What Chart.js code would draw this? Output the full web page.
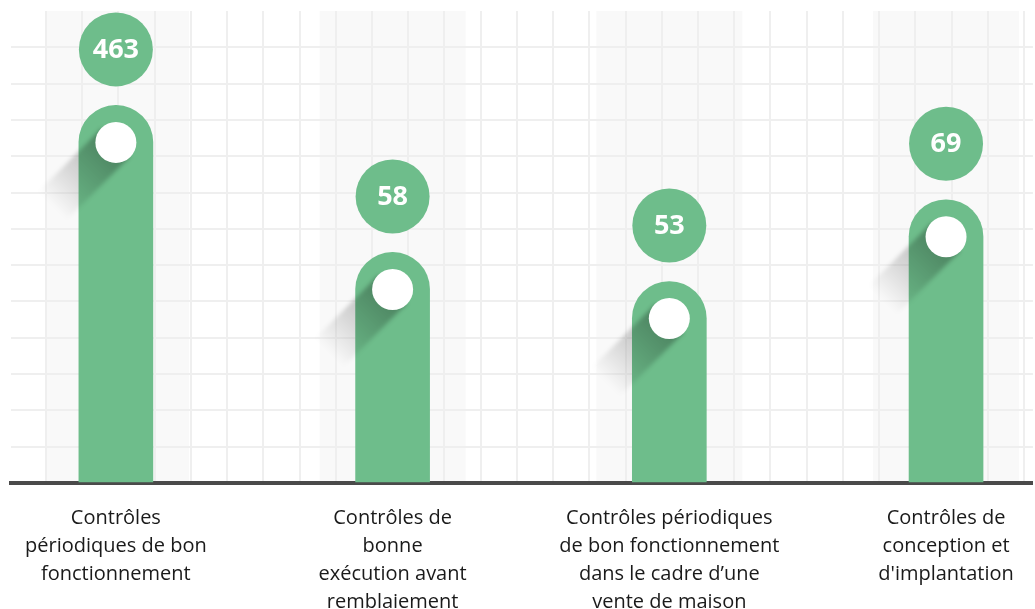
<!DOCTYPE html>
<html>
<head>
<meta charset="utf-8">
<script src="https://cdn.jsdelivr.net/npm/chart.js@4.4.0/dist/chart.umd.min.js"></script>
<style>
  html, body { margin: 0; padding: 0; background: #fff; }
  #wrap { width: 1035px; height: 609px; position: relative; }
</style>
</head>
<body>
<div id="wrap"><canvas id="chart"></canvas></div>
<script>
const categories = [
  ["Contrôles", "périodiques de bon", "fonctionnement"],
  ["Contrôles de", "bonne", "exécution avant", "remblaiement"],
  ["Contrôles périodiques", "de bon fonctionnement", "dans le cadre d’une", "vente de maison"],
  ["Contrôles de", "conception et", "d'implantation"]
];
const values = [463, 58, 53, 69];
// bar lengths as drawn in the picture, in grid cells (the infographic is not to scale)
const barHeights = [10.4, 6.35, 5.55, 7.8];

const GREEN = '#6ebd8b';
const FONT = "'Open Sans', 'DejaVu Sans', sans-serif";

// light column bands, long shadows, white dots and value badges
const decorations = {
  id: 'decorations',
  beforeDraw(chart) {
    const { ctx, chartArea: a } = chart;
    const bars = chart.getDatasetMeta(0).data;
    ctx.save();
    ctx.fillStyle = '#f9f9f9';
    bars.forEach(bar => {
      const left = Math.max(a.left + 35, bar.x - 73);
      const right = bar.x + 73;
      ctx.fillRect(left, a.top, right - left, a.bottom - a.top);
    });
    ctx.restore();
  },
  afterDatasetsDraw(chart) {
    const { ctx } = chart;
    const bars = chart.getDatasetMeta(0).data;
    bars.forEach((bar, i) => {
      const r = bar.width / 2;
      const cx = bar.x;
      const cy = bar.y + r;

      // long shadow going down-left from the dot
      ctx.save();
      ctx.translate(cx, cy);
      ctx.rotate(Math.PI * 3 / 4);
      const g = ctx.createLinearGradient(0, 0, 90, 0);
      g.addColorStop(0, 'rgba(0,0,0,0.32)');
      g.addColorStop(0.55, 'rgba(0,0,0,0.14)');
      g.addColorStop(1, 'rgba(0,0,0,0)');
      ctx.fillStyle = g;
      ctx.filter = 'blur(2px)';
      ctx.fillRect(0, -20, 90, 40);
      ctx.restore();

      // white dot
      ctx.save();
      ctx.fillStyle = '#ffffff';
      ctx.beginPath();
      ctx.arc(cx, cy, 20.5, 0, Math.PI * 2);
      ctx.fill();

      // value badge
      const by = bar.y - 56;
      ctx.fillStyle = GREEN;
      ctx.beginPath();
      ctx.arc(cx, by, 37, 0, Math.PI * 2);
      ctx.fill();
      ctx.fillStyle = '#ffffff';
      ctx.font = "bold 27px " + FONT;
      ctx.textAlign = 'center';
      ctx.textBaseline = 'middle';
      ctx.fillText(String(values[i]), cx, by + 1);
      ctx.restore();
    });
  }
};

new Chart(document.getElementById('chart'), {
  type: 'bar',
  data: {
    datasets: [{
      data: barHeights.map((h, i) => ({ x: i, y: h })),
      backgroundColor: GREEN,
      borderWidth: 0,
      barThickness: 74,
      borderRadius: 37,
      borderSkipped: 'start',
      xAxisID: 'x',
      yAxisID: 'y'
    }]
  },
  options: {
    responsive: true,
    maintainAspectRatio: false,
    animation: false,
    layout: { padding: { left: 11, top: 11, right: 0, bottom: 0 } },
    plugins: {
      legend: { display: false },
      tooltip: { enabled: false }
    },
    scales: {
      x: {
        type: 'linear',
        position: 'bottom',
        offset: false,
        min: -0.379,
        max: 3.314,
        afterBuildTicks: s => { s.ticks = categories.map((c, i) => ({ value: i })); },
        afterFit: s => { s.height = 126; },
        grid: { display: false, drawTicks: false, offset: false },
        border: { display: true, color: '#4a4a4a', width: 4 },
        ticks: {
          autoSkip: false,
          maxRotation: 0,
          padding: 21,
          color: '#1a1a1a',
          font: { family: FONT, size: 20, lineHeight: 1.4 },
          callback: v => categories[v]
        }
      },
      xg: {
        type: 'linear',
        position: 'top',
        offset: false,
        min: -0.964,
        max: 27.245,
        afterBuildTicks: s => {
          const t = [];
          for (let k = 0; k <= 27; k++) t.push({ value: k });
          s.ticks = t;
        },
        ticks: { display: false },
        border: { display: false },
        grid: { color: '#efefef', lineWidth: 2, drawTicks: false, offset: false }
      },
      y: {
        min: 0,
        max: 13,
        ticks: { display: false, stepSize: 1 },
        border: { display: false },
        grid: {
          lineWidth: 2,
          drawTicks: false,
          color: c => (c.tick.value === 13 ? 'rgba(0,0,0,0)' : '#efefef')
        }
      }
    }
  },
  plugins: [decorations]
});
</script>
</body>
</html>
